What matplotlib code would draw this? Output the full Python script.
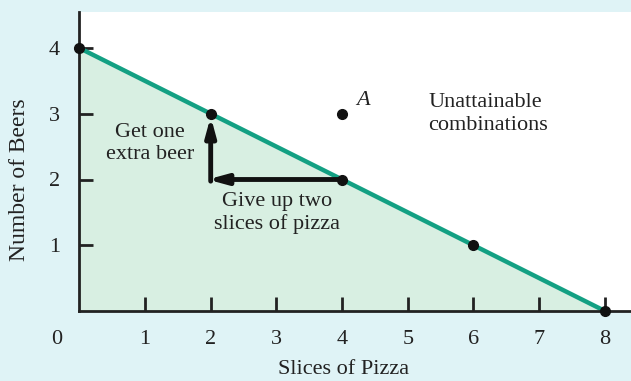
import matplotlib.pyplot as plt
import numpy as np

# Budget line: slices of pizza vs. number of beers
pizza = [0, 2, 4, 6, 8]
beers = [4, 3, 2, 1, 0]
point_a = (4, 3)
x_ticks = [1, 2, 3, 4, 5, 6, 7, 8]
y_ticks = [1, 2, 3, 4]

plt.rcParams['font.family'] = ['Liberation Serif', 'DejaVu Serif']

fig = plt.figure(figsize=(6.31, 3.81), dpi=100, facecolor='#dff3f6')
ax = fig.add_axes([79.3 / 631, 70 / 381, (631 - 79.3) / 631, (311 - 12) / 381])
ax.set_facecolor('white')
ax.set_xlim(0, (631 - 79.3) / 65.7)
ax.set_ylim(0, (311 - 12) / 65.75)

# attainable region
ax.fill_between(pizza, beers, 0, color='#d8efe2', zorder=1)
ax.plot(pizza, beers, color='#13a083', lw=3.2, zorder=2, clip_on=False)
ax.plot(pizza, beers, 'o', color='#111111', ms=7, zorder=5, clip_on=False)
ax.plot(*point_a, 'o', color='#111111', ms=7, zorder=5)

# trade-off arrows: give up two slices, get one beer
ax.annotate('', xy=(1.95, 2), xytext=(4, 2),
            arrowprops=dict(arrowstyle='-|>,head_length=1.1,head_width=0.3',
                            lw=3.5, color='#111111', shrinkA=0, shrinkB=0))
ax.annotate('', xy=(2, 3), xytext=(2, 1.975),
            arrowprops=dict(arrowstyle='-|>,head_length=1.1,head_width=0.3',
                            lw=3.5, color='#111111', shrinkA=0, shrinkB=2))

fs = 16
ls = 1.25
ax.text(1.08, 2.55, 'Get one\nextra beer', ha='center', va='center', fontsize=fs,
        color='#222222', linespacing=ls)
ax.text(3.01, 1.49, 'Give up two\nslices of pizza', ha='center', va='center', fontsize=fs,
        color='#222222', linespacing=ls)
ax.text(5.31, 3.0, 'Unattainable\ncombinations', ha='left', va='center', fontsize=fs,
        color='#222222', linespacing=ls)
ax.text(4.22, 3.2, 'A', ha='left', va='center', fontsize=fs, style='italic', color='#222222')

for s in ['top', 'right']:
    ax.spines[s].set_visible(False)
for s in ['left', 'bottom']:
    ax.spines[s].set_linewidth(2)
    ax.spines[s].set_color('#222222')

ax.set_xticks(x_ticks)
ax.set_yticks(y_ticks)
ax.tick_params(direction='in', length=10, width=2, color='#222222',
               labelsize=fs, labelcolor='#222222')
ax.tick_params(axis='x', pad=14)
ax.tick_params(axis='y', pad=14)
fig.text(57 / 631, 1 - 339 / 381, '0', ha='center', va='center', fontsize=fs, color='#222222')

fig.text(344 / 631, 1 - 370 / 381, 'Slices of Pizza', ha='center', va='center',
         fontsize=fs, color='#222222')
fig.text(20 / 631, 1 - 180 / 381, 'Number of Beers', ha='center', va='center',
         rotation=90, fontsize=17, color='#222222')

fig.savefig('out.png', dpi=100, facecolor=fig.get_facecolor())
